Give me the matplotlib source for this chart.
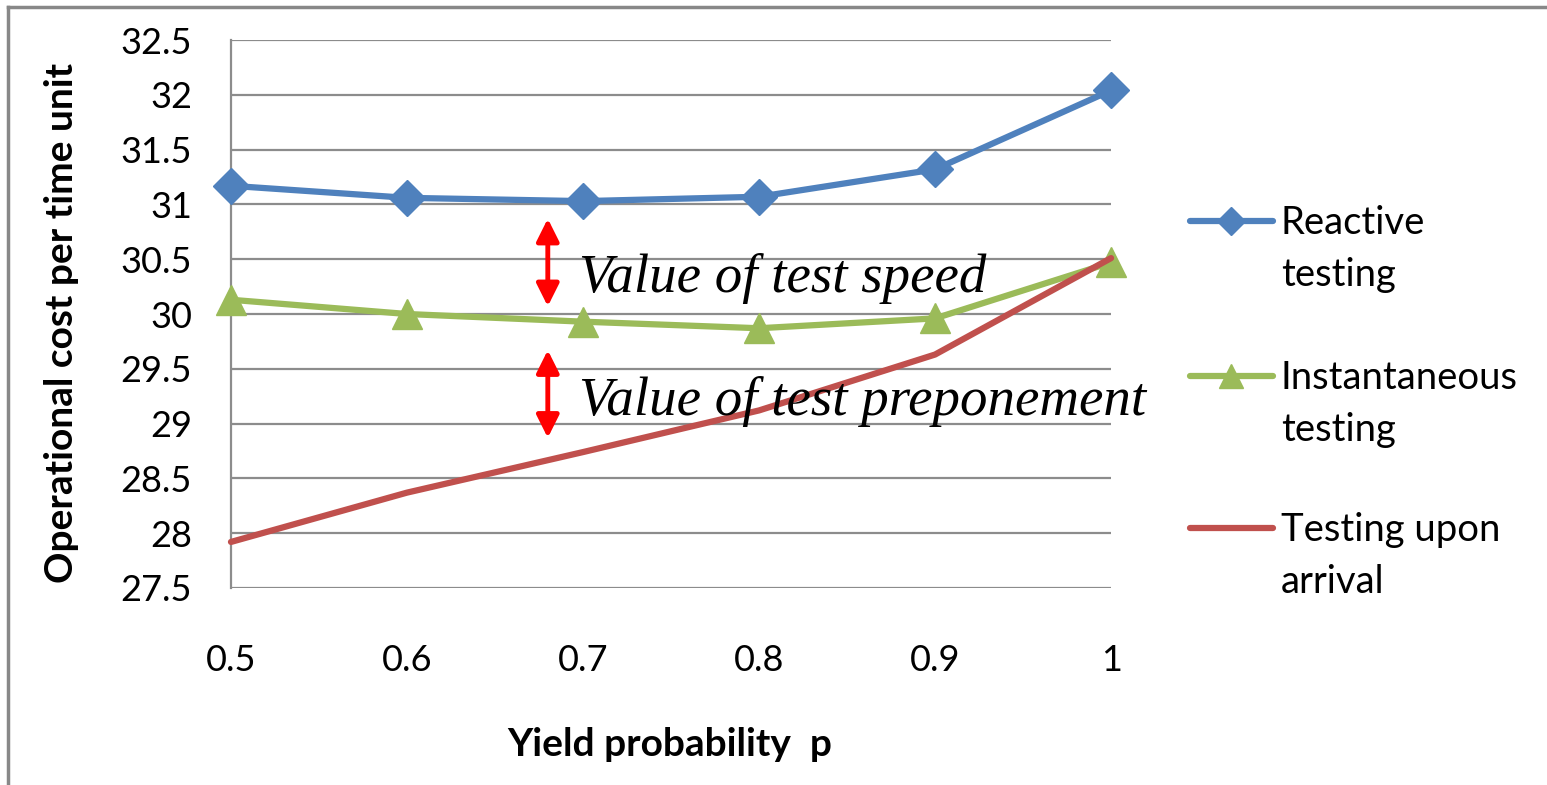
import matplotlib
matplotlib.use('Agg')
import matplotlib.pyplot as plt
from matplotlib.lines import Line2D

# ── Data ───────────────────────────────────────────────────────────
p_values = [0.5, 0.6, 0.7, 0.8, 0.9, 1.0]
reactive = [31.17, 31.06, 31.03, 31.07, 31.32, 32.04]
instantaneous = [30.13, 30.00, 29.93, 29.87, 29.96, 30.47]
upon_arrival = [27.92, 28.37, 28.74, 29.12, 29.63, 30.51]

x_ticks = [0.5, 0.6, 0.7, 0.8, 0.9, 1.0]
x_tick_labels = ['0.5', '0.6', '0.7', '0.8', '0.9', '1']
y_ticks = [27.5, 28, 28.5, 29, 29.5, 30, 30.5, 31, 31.5, 32, 32.5]
y_tick_labels = ['27.5', '28', '28.5', '29', '29.5', '30', '30.5', '31',
                 '31.5', '32', '32.5']

series_labels = ['Reactive\ntesting', 'Instantaneous\ntesting',
                 'Testing upon\narrival']

# annotation arrows: (y_low, y_high) at arrow_x, and notes
arrow_x = 0.68
speed_arrow = (30.07, 30.87)
prepone_arrow = (28.87, 29.67)
speed_text = 'Value of test speed'
prepone_text = 'Value of test preponement'

BLUE = '#4F81BD'
GREEN = '#9BBB59'
RED = '#C0504D'
GRID = '#8C8C8C'
SANS = ['Lato', 'DejaVu Sans']
SERIF = ['Liberation Serif', 'DejaVu Serif']

plt.rcParams['font.family'] = SANS

fig = plt.figure(figsize=(15.47, 7.85), dpi=100)
ax = fig.add_axes([0.1493, 0.2510, 0.5689, 0.6980])

ax.plot(p_values, reactive, color=BLUE, lw=4.5, marker='D', ms=18,
        solid_joinstyle='round', solid_capstyle='round', zorder=4, clip_on=False)
ax.plot(p_values, instantaneous, color=GREEN, lw=4.5, marker='^', ms=21,
        solid_joinstyle='round', solid_capstyle='round', zorder=3, clip_on=False)
ax.plot(p_values, upon_arrival, color=RED, lw=4.5,
        solid_joinstyle='round', solid_capstyle='round', zorder=5, clip_on=False)

ax.set_xlim(0.5, 1.0)
ax.set_ylim(27.5, 32.5)
ax.set_xticks(x_ticks)
ax.set_xticklabels(x_tick_labels)
ax.set_yticks(y_ticks)
ax.set_yticklabels(y_tick_labels)
ax.tick_params(axis='both', length=0, labelsize=26, colors='#000000')
ax.tick_params(axis='y', pad=28)
ax.tick_params(axis='x', pad=40)

ax.yaxis.grid(True, color=GRID, lw=1.6)
ax.set_axisbelow(True)
for side in ['top', 'right', 'bottom']:
    ax.spines[side].set_visible(False)
ax.spines['left'].set_color(GRID)
ax.spines['left'].set_linewidth(1.6)

# ── Red arrows and italic notes ───────────────────────────────────
for lo, hi in [speed_arrow, prepone_arrow]:
    ax.annotate('', xy=(arrow_x, hi), xytext=(arrow_x, lo),
                arrowprops=dict(arrowstyle='<|-|>', color='#FF0000', lw=3.5,
                                mutation_scale=34, shrinkA=0, shrinkB=0),
                zorder=6)
ax.text(0.698, 30.20, speed_text, family=SERIF, style='italic',
        fontsize=39.5, va='baseline', zorder=7)
ax.text(0.698, 29.08, prepone_text, family=SERIF, style='italic',
        fontsize=39.5, va='baseline', zorder=7)

# ── Axis titles ────────────────────────────────────────────────────
fig.text(0.040, 0.589, 'Operational cost per time unit', rotation=90,
         fontsize=28, fontweight='bold', ha='center', va='center')
fig.text(0.433, 0.051, 'Yield probability  p', fontsize=28,
         fontweight='bold', ha='center', va='center')

# ── Legend (handle level with first text line) ─────────────────────
W, H = 1547, 785
legend_styles = [(BLUE, 'D', 14), (GREEN, '^', 17), (RED, None, 0)]
handle_y = [221, 376, 528]
for (color, mk, ms), label, hy in zip(legend_styles, series_labels, handle_y):
    fy = 1 - hy / H
    fig.add_artist(Line2D([1190 / W, 1273 / W], [fy, fy], color=color,
                          lw=4.5, solid_capstyle='round'))
    if mk:
        fig.add_artist(Line2D([1231 / W], [fy], color=color, marker=mk,
                              ms=ms, lw=0))
    for k, line in enumerate(label.split('\n')):
        base = hy + 13 + 52 * k
        fig.text(1281 / W, 1 - base / H, line, fontsize=27.5, ha='left',
                 va='baseline')

# ── Outer frame (top and left edges only) ─────────────────────────
fig.add_artist(Line2D([8 / W, 1], [1 - 7 / H, 1 - 7 / H], color='#888888', lw=2.5))
fig.add_artist(Line2D([8 / W, 8 / W], [0, 1 - 7 / H], color='#888888', lw=2.5))

fig.savefig('out.png', dpi=100)
